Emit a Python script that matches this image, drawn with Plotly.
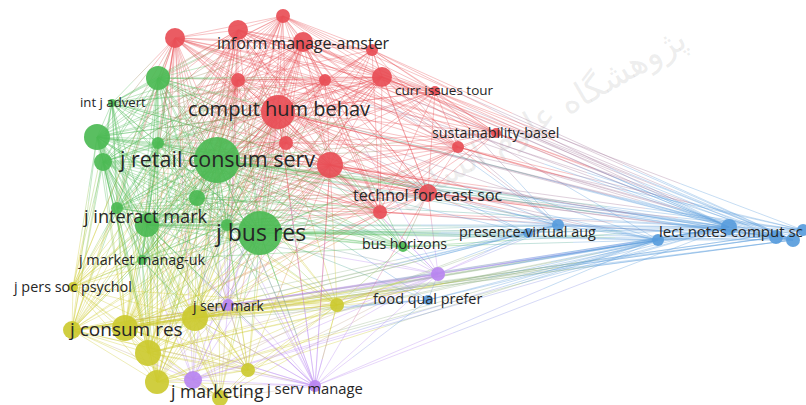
import plotly.graph_objects as go

# ---- node data (VOSviewer map coordinates, weight = node radius, cluster id) ----
names = ["r0", "r1", "r2", "inform manage-amster", "r4", "r5", "r6", "r7", "comput hum behav", "r9",
         "r10", "curr issues tour", "r12", "sustainability-basel", "technol forecast soc", "r15",
         "g16", "int j advert", "g18", "g19", "g20", "j retail consum serv", "g22", "j interact mark",
         "g24", "g25", "j bus res", "j market manag-uk", "bus horizons",
         "j pers soc psychol", "j consum res", "y31", "y32", "y33", "y34", "y35", "y36", "y37",
         "j serv mark", "j marketing", "j serv manage", "food qual prefer",
         "b42", "b43", "presence-virtual aug", "b45", "lect notes comput sc", "b47", "b48", "b49"]
node_x = [175, 238, 283, 303, 372, 382, 238, 325, 278, 286, 330, 435, 458, 496, 428, 380,
          158, 112, 97, 103, 158, 217, 117, 147, 197, 227, 260, 142, 403,
          73, 72, 125, 148, 157, 195, 248, 337, 220,
          228, 193, 315, 438,
          428, 528, 558, 658, 729, 776, 793, 803]
node_y = [38, 30, 16, 42, 50, 77, 80, 80, 112, 143, 165, 91, 147, 133, 193, 212,
          78, 103, 137, 162, 143, 160, 208, 225, 198, 225, 233, 260, 247,
          287, 330, 328, 353, 382, 318, 370, 305, 398,
          305, 380, 386, 274,
          300, 233, 225, 240, 227, 237, 240, 230]
node_w = [10, 10, 7, 10, 6, 10, 7, 6, 17, 7, 13, 5, 6, 5, 9, 7,
          12, 4, 13, 9, 6, 23, 6, 12, 8, 6, 22, 5, 5,
          5, 9, 13, 13, 12, 13, 7, 7, 8,
          6, 9, 6, 7,
          5, 5, 6, 6, 8, 7, 7, 6]
node_c = [0] * 16 + [1] * 13 + [2] * 9 + [3] * 4 + [4] * 8

cluster_rgb = [(232, 78, 86), (76, 186, 84), (204, 202, 48), (184, 134, 240), (88, 156, 220)]

# ---- links: neighbours of each node (index ranges) ----
links = {
    0: "1-34,38,39,46,48",
    1: "2-34,38,46",
    2: "3-27,31,34,48",
    3: "4-34,38,41,44,46,48",
    4: "5-15,21,23,26,46,48",
    5: "6-27,31,34,44-48",
    6: "7-27,29-34,38",
    7: "8-26,31,34,46",
    8: "9-41,43-49",
    9: "10-26,31,34",
    10: "11-36,38-41,44-49",
    11: "12-15,18,21,23,26,44,46,48,49",
    12: "13-15,21,23,26,31,34,44,46-49",
    13: "14,15,21,26,46-48",
    14: "15-26,28,31,34,41,43-49",
    15: "16-26,31,34,44,46,48",
    16: "17-37,46",
    17: "18-27,29-33",
    18: "19-39,46",
    19: "20-37",
    20: "21-34",
    21: "22-49",
    22: "23-34",
    23: "24-41,44-46",
    24: "25-34,38,46",
    25: "26-36,38,40",
    26: "27-49",
    27: "28-35",
    28: "36,41,44-46",
    29: "30-37",
    30: "31-41,44-48",
    31: "32-49",
    32: "33-41,45,46",
    33: "34-41,45,46",
    34: "35-49",
    35: "36-41,45",
    36: "37-46",
    37: "38-41",
    38: "39-41,45,46",
    39: "40,41,45,46",
    40: "8,10,14,16,18,21,23,26,31,34,36,41,42,45,46",
    41: "42-46",
    42: "45,46",
    43: "44,46",
    44: "45,46,47",
    45: "46,47,48,49",
    46: "47,48,49",
    47: "48,49",
    48: "49",
}

# ---- labels shown on the map ----
label_names = ["inform manage-amster", "comput hum behav", "curr issues tour", "sustainability-basel",
               "technol forecast soc", "int j advert", "j retail consum serv", "j interact mark",
               "j bus res", "j market manag-uk", "bus horizons", "j pers soc psychol", "j consum res",
               "j serv mark", "j marketing", "j serv manage", "food qual prefer",
               "presence-virtual aug", "lect notes comput sc"]
label_x = [303, 279, 444, 495, 428, 113, 216, 145, 260, 141, 404, 72, 125, 228, 217, 314, 427, 527, 731]
label_y = [43, 108, 90, 132, 195, 102, 158, 216, 232, 259, 243, 286, 329, 305, 391, 388, 298, 231, 231]
label_size = [16, 20, 13.5, 14.3, 16, 13.2, 21.5, 18.2, 23, 14.4, 14.2, 14.4, 19, 13.8, 17.6, 14.8, 14.4, 14.4, 15]


def parse(spec):
    out = []
    for part in spec.split(","):
        if "-" in part:
            a, b = part.split("-")
            out.extend(range(int(a), int(b) + 1))
        else:
            out.append(int(part))
    return out


fig = go.Figure()

# watermark
fig.add_annotation(x=540, y=118, text="پژوهشگاه علوم انسانی", showarrow=False,
                   textangle=-30, font=dict(size=34, color="rgba(150,150,150,0.17)", family="DejaVu Sans"))

# edges: drawn in three parts, end colours with a blended middle (approximate gradient)
for src, spec in links.items():
    groups = {}
    for dst in parse(spec):
        x0, y0, x1, y1 = node_x[src], node_y[src], node_x[dst], node_y[dst]
        ca, cb = cluster_rgb[node_c[src]], cluster_rgb[node_c[dst]]
        cm = tuple((ca[k] + cb[k]) // 2 for k in range(3))
        pts = [(x0 + (x1 - x0) * t, y0 + (y1 - y0) * t) for t in (0, 1 / 3, 2 / 3, 1)]
        for seg, col in enumerate((ca, cm, cb)):
            g = groups.setdefault(col, ([], []))
            g[0].extend([pts[seg][0], pts[seg + 1][0], None])
            g[1].extend([pts[seg][1], pts[seg + 1][1], None])
    for (r, gg, b), (xs, ys) in groups.items():
        fig.add_trace(go.Scatter(x=xs, y=ys, mode="lines", hoverinfo="skip",
                                 line=dict(color=f"rgba({r},{gg},{b},0.34)", width=1.0),
                                 showlegend=False))

# nodes
order = sorted(range(len(names)), key=lambda i: node_w[i])
fig.add_trace(go.Scatter(
    x=[node_x[i] for i in order], y=[node_y[i] for i in order], mode="markers",
    marker=dict(size=[2 * node_w[i] for i in order],
                color=[f"rgb{cluster_rgb[node_c[i]]}" for i in order],
                opacity=0.92, line=dict(width=0)),
    text=[names[i] for i in order], hoverinfo="text", showlegend=False))

# labels
for t, lx, ly, s in zip(label_names, label_x, label_y, label_size):
    fig.add_annotation(x=lx, y=ly, text=t, showarrow=False,
                       font=dict(size=s, color="#262626", family="Open Sans"))

fig.update_layout(
    width=806, height=405, margin=dict(l=0, r=0, t=0, b=0),
    paper_bgcolor="white", plot_bgcolor="white",
    xaxis=dict(range=[0, 806], visible=False, fixedrange=True),
    yaxis=dict(range=[405, 0], visible=False, fixedrange=True),
)
fig.write_html("out.html", config={"displayModeBar": False},
               post_script="document.body.style.margin='0';document.body.style.overflow='hidden';")
